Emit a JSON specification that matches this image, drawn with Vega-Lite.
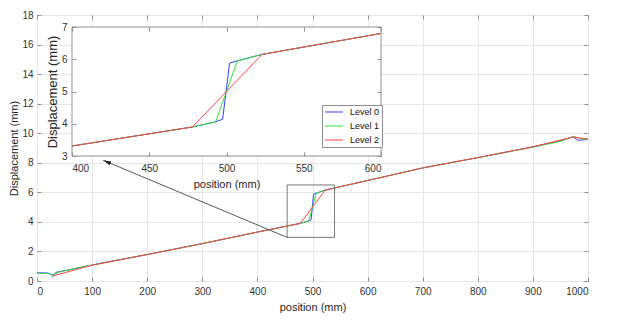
{
  "$schema": "https://vega.github.io/schema/vega-lite/v6.json",
  "width": 551,
  "height": 266,
  "autosize": {"type": "none"},
  "padding": {"left": 37, "top": 15, "right": 40, "bottom": 44},
  "background": "white",
  "config": {
    "font": "Liberation Sans",
    "view": {"stroke": "#8f8f8f", "strokeWidth": 1},
    "axis": {
      "labelFont": "Liberation Sans",
      "titleFont": "Liberation Sans",
      "labelFontSize": 10,
      "titleFontSize": 11,
      "labelColor": "#333333",
      "titleColor": "#262626",
      "titleFontWeight": "normal",
      "tickColor": "#8f8f8f",
      "domain": false,
      "gridColor": "#e6e6e6",
      "gridWidth": 1,
      "format": "d"
    }
  },
  "datasets": {
    "lines": [
      {"level": "Level 0", "pos": 0, "disp": 0.55},
      {"level": "Level 0", "pos": 20, "disp": 0.54},
      {"level": "Level 0", "pos": 25, "disp": 0.45},
      {"level": "Level 0", "pos": 28.5, "disp": 0.32},
      {"level": "Level 0", "pos": 34, "disp": 0.58},
      {"level": "Level 0", "pos": 70, "disp": 0.85},
      {"level": "Level 0", "pos": 100, "disp": 1.08},
      {"level": "Level 0", "pos": 130, "disp": 1.31},
      {"level": "Level 0", "pos": 200, "disp": 1.79},
      {"level": "Level 0", "pos": 300, "disp": 2.53},
      {"level": "Level 0", "pos": 400, "disp": 3.31},
      {"level": "Level 0", "pos": 478, "disp": 3.9},
      {"level": "Level 0", "pos": 493, "disp": 4.06},
      {"level": "Level 0", "pos": 497.5, "disp": 4.14},
      {"level": "Level 0", "pos": 502, "disp": 5.88},
      {"level": "Level 0", "pos": 507, "disp": 5.95},
      {"level": "Level 0", "pos": 523, "disp": 6.15},
      {"level": "Level 0", "pos": 600, "disp": 6.8},
      {"level": "Level 0", "pos": 700, "disp": 7.65},
      {"level": "Level 0", "pos": 800, "disp": 8.35},
      {"level": "Level 0", "pos": 880, "disp": 8.93},
      {"level": "Level 0", "pos": 949, "disp": 9.48},
      {"level": "Level 0", "pos": 973, "disp": 9.75},
      {"level": "Level 0", "pos": 982, "disp": 9.52},
      {"level": "Level 0", "pos": 1000, "disp": 9.58},
      {"level": "Level 1", "pos": 0, "disp": 0.52},
      {"level": "Level 1", "pos": 20, "disp": 0.51},
      {"level": "Level 1", "pos": 28.5, "disp": 0.4},
      {"level": "Level 1", "pos": 40, "disp": 0.6},
      {"level": "Level 1", "pos": 72, "disp": 0.88},
      {"level": "Level 1", "pos": 100, "disp": 1.07},
      {"level": "Level 1", "pos": 200, "disp": 1.79},
      {"level": "Level 1", "pos": 300, "disp": 2.53},
      {"level": "Level 1", "pos": 400, "disp": 3.31},
      {"level": "Level 1", "pos": 478, "disp": 3.9},
      {"level": "Level 1", "pos": 493, "disp": 4.06},
      {"level": "Level 1", "pos": 507, "disp": 5.95},
      {"level": "Level 1", "pos": 523, "disp": 6.15},
      {"level": "Level 1", "pos": 600, "disp": 6.8},
      {"level": "Level 1", "pos": 700, "disp": 7.65},
      {"level": "Level 1", "pos": 800, "disp": 8.35},
      {"level": "Level 1", "pos": 900, "disp": 9.05},
      {"level": "Level 1", "pos": 949, "disp": 9.44},
      {"level": "Level 1", "pos": 973, "disp": 9.78},
      {"level": "Level 1", "pos": 991, "disp": 9.6},
      {"level": "Level 1", "pos": 1000, "disp": 9.6},
      {"level": "Level 2", "pos": 28.5, "disp": 0.34},
      {"level": "Level 2", "pos": 100, "disp": 1.07},
      {"level": "Level 2", "pos": 200, "disp": 1.79},
      {"level": "Level 2", "pos": 300, "disp": 2.53},
      {"level": "Level 2", "pos": 400, "disp": 3.31},
      {"level": "Level 2", "pos": 478, "disp": 3.9},
      {"level": "Level 2", "pos": 523, "disp": 6.15},
      {"level": "Level 2", "pos": 600, "disp": 6.8},
      {"level": "Level 2", "pos": 700, "disp": 7.65},
      {"level": "Level 2", "pos": 800, "disp": 8.35},
      {"level": "Level 2", "pos": 900, "disp": 9.08},
      {"level": "Level 2", "pos": 973, "disp": 9.75},
      {"level": "Level 2", "pos": 1000, "disp": 9.6}
    ],
    "zoombox": [{"x0": 454, "x1": 540, "y0": 2.95, "y1": 6.5}],
    "arrow": [{"x0": 454, "y0": 2.95, "x1": 120, "y1": 8.17}],
    "frame": [{"x0": 400, "x1": 600, "y0": 3, "y1": 7}]
  },
  "layer": [
    {
      "layer": [
        {
          "data": {"name": "lines"},
          "mark": {"type": "line", "strokeWidth": 1},
          "encoding": {
            "x": {
              "field": "pos", "type": "quantitative",
              "scale": {"domain": [0, 1000], "nice": false, "zero": false},
              "axis": {"orient": "bottom", "values": [0, 100, 200, 300, 400, 500, 600, 700, 800, 900, 1000], "grid": true, "tickSize": -4, "labelPadding": 9, "title": "position (mm)", "titlePadding": 5}
            },
            "y": {
              "field": "disp", "type": "quantitative",
              "scale": {"domain": [0, 18], "nice": false, "zero": false},
              "axis": {"orient": "left", "values": [0, 2, 4, 6, 8, 10, 12, 14, 16, 18], "grid": true, "tickSize": -4, "labelPadding": 8, "title": "Displacement (mm)", "titlePadding": 2}
            },
            "color": {
              "field": "level", "type": "nominal",
              "scale": {"domain": ["Level 0", "Level 1", "Level 2"], "range": ["#3c3cff", "#30e030", "#ff4545"]},
              "legend": {"orient": "none", "legendX": 285, "legendY": 90, "title": null, "symbolType": "M-2,0H2", "symbolSize": 81, "symbolStrokeWidth": 1, "symbolOffset": 5, "labelOffset": 11, "labelFontSize": 9, "labelFont": "Liberation Sans", "labelColor": "#111111", "strokeColor": "#8f8f8f", "fillColor": "white", "padding": 2, "rowPadding": 4, "zindex": 1}
            }
          }
        },
        {
          "data": {"name": "zoombox"},
          "mark": {"type": "rect", "fillOpacity": 0, "stroke": "#7a7a7a", "strokeWidth": 1},
          "encoding": {
            "x": {"field": "x0", "type": "quantitative", "scale": {"domain": [0, 1000], "nice": false, "zero": false},
              "axis": {"orient": "top", "values": [0, 100, 200, 300, 400, 500, 600, 700, 800, 900, 1000], "labels": false, "grid": false, "tickSize": -4, "title": null}},
            "x2": {"field": "x1"},
            "y": {"field": "y0", "type": "quantitative", "scale": {"domain": [0, 18], "nice": false, "zero": false},
              "axis": {"orient": "right", "values": [0, 2, 4, 6, 8, 10, 12, 14, 16, 18], "labels": false, "grid": false, "tickSize": -4, "title": null}},
            "y2": {"field": "y1"}
          }
        },
        {
          "data": {"name": "arrow"},
          "mark": {"type": "rule", "stroke": "#5a5a5a", "strokeWidth": 1},
          "encoding": {
            "x": {"field": "x0", "type": "quantitative", "axis": null},
            "y": {"field": "y0", "type": "quantitative", "axis": null},
            "x2": {"field": "x1"},
            "y2": {"field": "y1"}
          }
        },
        {
          "data": {"name": "arrow"},
          "mark": {"type": "point", "shape": "M0,0L-0.5,2L0.5,2Z", "filled": true, "color": "#222222", "opacity": 1, "angle": 293, "size": 64},
          "encoding": {
            "x": {"field": "x1", "type": "quantitative", "axis": null},
            "y": {"field": "y1", "type": "quantitative", "axis": null}
          }
        }
      ],
      "resolve": {"axis": {"x": "independent", "y": "independent"}}
    },
    {
      "layer": [
        {
          "data": {"name": "frame"},
          "mark": {"type": "rect", "fill": "white", "stroke": "#8f8f8f", "strokeWidth": 1},
          "encoding": {
            "x": {"field": "x0", "type": "quantitative", "scale": {"domain": [400, 600], "range": [35, 344], "nice": false, "zero": false},
              "axis": {"orient": "top", "offset": -12, "values": [400, 450, 500, 550, 600], "labels": false, "grid": false, "tickSize": -4, "title": null, "zindex": 1}},
            "x2": {"field": "x1"},
            "y": {"field": "y0", "type": "quantitative", "scale": {"domain": [3, 7], "range": [141, 12], "nice": false, "zero": false},
              "axis": {"orient": "right", "offset": -207, "values": [3, 4, 5, 6, 7], "labels": false, "grid": false, "tickSize": -4, "title": null, "zindex": 1}},
            "y2": {"field": "y1"}
          }
        },
        {
          "data": {"name": "lines"},
          "transform": [{"filter": {"field": "pos", "range": [400, 600]}}],
          "mark": {"type": "line", "strokeWidth": 1},
          "encoding": {
            "x": {"field": "pos", "type": "quantitative", "scale": {"domain": [400, 600], "range": [35, 344], "nice": false, "zero": false},
              "axis": {"orient": "bottom", "offset": -125, "values": [400, 450, 500, 550, 600], "grid": false, "tickSize": -4, "labelPadding": 11, "title": "position (mm)", "titlePadding": 5, "zindex": 1}},
            "y": {"field": "disp", "type": "quantitative", "scale": {"domain": [3, 7], "range": [141, 12], "nice": false, "zero": false},
              "axis": {"orient": "left", "offset": -35, "values": [3, 4, 5, 6, 7], "grid": false, "tickSize": -4, "labelPadding": 9, "title": "Displacement (mm)", "titleFontSize": 13, "titlePadding": 2, "zindex": 1}},
            "color": {
              "field": "level", "type": "nominal",
              "scale": {"domain": ["Level 0", "Level 1", "Level 2"], "range": ["#3c3cff", "#30e030", "#ff4545"]},
              "legend": {"orient": "none", "legendX": 285, "legendY": 90, "title": null, "symbolType": "M-2,0H2", "symbolSize": 81, "symbolStrokeWidth": 1, "symbolOffset": 5, "labelOffset": 11, "labelFontSize": 9, "labelFont": "Liberation Sans", "labelColor": "#111111", "strokeColor": "#8f8f8f", "fillColor": "white", "padding": 2, "rowPadding": 4, "zindex": 1}
            }
          }
        }
      ],
      "resolve": {"axis": {"x": "independent", "y": "independent"}}
    }
  ],
  "resolve": {"scale": {"x": "independent", "y": "independent"}, "axis": {"x": "independent", "y": "independent"}}
}
